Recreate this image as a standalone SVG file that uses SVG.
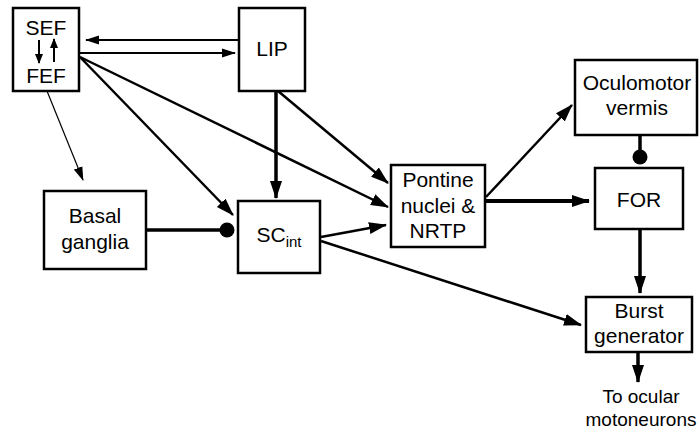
<svg xmlns="http://www.w3.org/2000/svg" width="699" height="430" viewBox="0 0 699 430">
<defs>
<style>
.box{fill:#fff;stroke:#000;stroke-width:2.5}
.t{font-family:"Liberation Sans",Arial,Helvetica,sans-serif;font-size:21px;fill:#000;text-anchor:middle}
.s{font-family:"Liberation Sans",Arial,Helvetica,sans-serif;font-size:19px;fill:#000;text-anchor:middle}
.c{fill:none;stroke:#000}
</style>
<marker id="ah" markerUnits="userSpaceOnUse" markerWidth="18" markerHeight="14" viewBox="0 0 18 14" refX="17" refY="7" orient="auto">
<path d="M0,1 L18,7 L0,13 z" fill="#000"/>
</marker>
<marker id="ahs" markerUnits="userSpaceOnUse" markerWidth="14" markerHeight="10" viewBox="0 0 14 10" refX="13" refY="5" orient="auto">
<path d="M0,0.5 L14,5 L0,9.5 z" fill="#000"/>
</marker>
<marker id="ahx" markerUnits="userSpaceOnUse" markerWidth="10" markerHeight="8" viewBox="0 0 10 8" refX="9" refY="4" orient="auto">
<path d="M0,0 L10,4 L0,8 z" fill="#000"/>
</marker>
</defs>
<rect width="699" height="430" fill="#fff"/>
<g id="connectors">
<line class="c" x1="239" y1="40" x2="86" y2="40" stroke-width="2" marker-end="url(#ahs)"/>
<line class="c" x1="79" y1="53" x2="235" y2="53" stroke-width="2" marker-end="url(#ahs)"/>
<line class="c" x1="47" y1="91" x2="83" y2="180" stroke-width="1.2" marker-end="url(#ahs)"/>
<line class="c" x1="80" y1="57" x2="233" y2="215" stroke-width="2.5" marker-end="url(#ah)"/>
<line class="c" x1="80" y1="57" x2="388" y2="207" stroke-width="2.5" marker-end="url(#ah)"/>
<line class="c" x1="276" y1="91" x2="276" y2="198" stroke-width="3.5" marker-end="url(#ah)"/>
<line class="c" x1="278" y1="91" x2="388" y2="183" stroke-width="2.5" marker-end="url(#ah)"/>
<line class="c" x1="146" y1="230" x2="222" y2="230" stroke-width="3.5"/>
<circle cx="227" cy="230" r="7.5" fill="#000"/>
<line class="c" x1="321" y1="237" x2="386" y2="225" stroke-width="2.5" marker-end="url(#ah)"/>
<line class="c" x1="321" y1="241" x2="581" y2="325" stroke-width="2.5" marker-end="url(#ah)"/>
<line class="c" x1="486" y1="197" x2="572" y2="105" stroke-width="2.5" marker-end="url(#ah)"/>
<line class="c" x1="485" y1="201" x2="589" y2="201" stroke-width="4" marker-end="url(#ah)"/>
<line class="c" x1="640" y1="135" x2="640" y2="152" stroke-width="3.5"/>
<circle cx="640" cy="157" r="7.5" fill="#000"/>
<line class="c" x1="640" y1="229" x2="640" y2="293" stroke-width="3.5" marker-end="url(#ah)"/>
<line class="c" x1="638" y1="352" x2="638" y2="382" stroke-width="3.5" marker-end="url(#ah)"/>
</g>
<g id="sef-fef">
<rect class="box" x="13" y="8" width="66" height="83"/>
<text class="t" x="46" y="35">SEF</text>
<text class="t" x="46" y="83">FEF</text>
<line class="c" x1="39" y1="40" x2="39" y2="63" stroke-width="2" marker-end="url(#ahx)"/>
<line class="c" x1="54" y1="62" x2="54" y2="39" stroke-width="2" marker-end="url(#ahx)"/>
</g>
<g id="lip">
<rect class="box" x="239" y="8" width="66" height="83"/>
<text class="t" x="272" y="56">LIP</text>
</g>
<g id="basal-ganglia">
<rect class="box" x="44" y="191" width="102" height="78"/>
<text class="t" x="95" y="223">Basal</text>
<text class="t" x="95" y="249">ganglia</text>
</g>
<g id="sc-int">
<rect class="box" x="238" y="201" width="82" height="72"/>
<text class="t" x="279" y="242">SC<tspan font-size="15" dy="5">int</tspan></text>
</g>
<g id="pontine">
<rect class="box" x="391" y="165" width="94" height="82"/>
<text class="t" x="438" y="187">Pontine</text>
<text class="t" x="438" y="213">nuclei &amp;</text>
<text class="t" x="438" y="238">NRTP</text>
</g>
<g id="vermis">
<rect class="box" x="575" y="60" width="122" height="75"/>
<text class="t" x="637" y="90">Oculomotor</text>
<text class="t" x="637" y="115">vermis</text>
</g>
<g id="for">
<rect class="box" x="595" y="168" width="88" height="61"/>
<text class="t" x="639" y="207">FOR</text>
</g>
<g id="burst">
<rect class="box" x="586" y="297" width="106" height="55"/>
<text class="t" x="639" y="318">Burst</text>
<text class="t" x="639" y="343">generator</text>
</g>
<g id="output-label">
<text class="s" x="641" y="403">To ocular</text>
<text class="s" x="641" y="426">motoneurons</text>
</g>
</svg>
